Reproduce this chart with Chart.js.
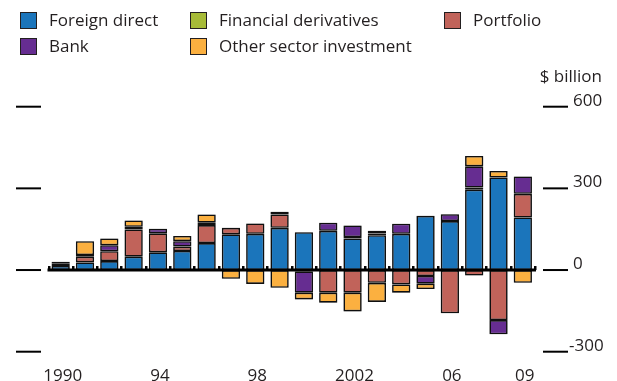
<!DOCTYPE html>
<html>
<head>
<meta charset="utf-8">
<script src="https://cdn.jsdelivr.net/npm/chart.js@4.4.1/dist/chart.umd.min.js"></script>
<style>
  html, body { margin: 0; padding: 0; background: #fff; }
  #wrap { position: relative; width: 617px; height: 381px; overflow: hidden; font-family: "Open Sans", sans-serif; color: #231f20; }
  #chart { position: absolute; left: 0; top: 0; }
  .lg { position: absolute; font-size: 17px; line-height: 18px; white-space: nowrap; }
  .lg i { position: absolute; left: 0; top: 0; width: 15px; height: 15px; border: 1.5px solid #231f20; }
  .lg span { position: absolute; left: 29px; top: -1px; }
  #unit { position: absolute; right: 15px; top: 64px; font-size: 17px; }
</style>
</head>
<body>
<div id="wrap">
  <canvas id="chart" width="617" height="381"></canvas>
  <div id="legend"></div>
  <div id="unit">$ billion</div>
</div>
<script>
// ---- Data ($ billion) ----
var years = ['1990','1991','1992','1993','1994','1995','1996','1997','1998','1999',
             '2000','2001','2002','2003','2004','2005','2006','2007','2008','2009'];
var xTickLabels = ['1990','','','','94','','','','98','','','','2002','','','','06','','','09'];
var yTickValues = [600, 300, 0, -300];
var yTickLabels = ['600', '300', '0', '-300'];

var foreignDirect = [15, 28, 33, 49, 65, 70, 99, 131, 133, 155, 139, 144, 116, 128, 133, 199, 180, 295, 340, 193];
var portfolio     = [8, 21, 36, 100, 70, 16, 66, 24, 38, 49, -5, -83, -83, -47, -53, -22, -159, -20, -184, 87];
var finDeriv      = [null, null, null, null, null, null, null, null, null, 10, null, null, 5, 6, null, null, null, 8, null, null];
var bank          = [7, 6, 22, 10, 17, 20, 9, null, null, null, -78, 30, 43, 10, 37, -28, 25, 78, -52, 64];
var otherSector   = [null, 51, 25, 23, null, 19, 30, -32, -51, -65, -25, -37, -69, -70, -30, -20, null, 38, 24, -47];

// Stack order, bottom up: FDI, portfolio, derivatives, bank, other.
var SERIES = [
  { name: 'Foreign direct',          data: foreignDirect, color: '#1b75bb' },
  { name: 'Portfolio',               data: portfolio,     color: '#c1635a' },
  { name: 'Financial derivatives',   data: finDeriv,      color: '#a7bb38' },
  { name: 'Bank',                    data: bank,          color: '#662d91' },
  { name: 'Other sector investment', data: otherSector,   color: '#fbb040' }
];

// Legend cells: [series name, box left, box top]
var LEGEND = [
  ['Foreign direct', 20, 12], ['Financial derivatives', 190, 12], ['Portfolio', 444, 12],
  ['Bank', 20, 38], ['Other sector investment', 190, 38]
];

var INK = '#231f20';
var FONT = '17px "Open Sans", sans-serif';

function colorOf(name) {
  for (var i = 0; i < SERIES.length; i++) if (SERIES[i].name === name) return SERIES[i].color;
  return '#999';
}

// Legend (HTML)
var lg = document.getElementById('legend');
LEGEND.forEach(function (e) {
  var d = document.createElement('div');
  d.className = 'lg';
  d.style.left = e[1] + 'px'; d.style.top = e[2] + 'px';
  d.innerHTML = '<i style="background:' + colorOf(e[0]) + '"></i><span>' + e[0] + '</span>';
  lg.appendChild(d);
});

// Soft halo round each bar.
var barHalo = {
  id: 'barHalo',
  beforeDatasetDraw: function (chart) {
    var ctx = chart.ctx; ctx.save();
    ctx.shadowColor = 'rgba(0,0,0,0.35)'; ctx.shadowBlur = 3;
  },
  afterDatasetDraw: function (chart) { chart.ctx.restore(); }
};

// Axis furniture: zero line with category notches, side tick marks and value labels.
var axisDecor = {
  id: 'axisDecor',
  afterDatasetsDraw: function (chart) {
    var ctx = chart.ctx, x = chart.scales.x, y = chart.scales.y;
    var y0 = y.getPixelForValue(0);
    ctx.save();
    ctx.strokeStyle = '#000'; ctx.fillStyle = '#000';

    // zero line
    var left = x.getPixelForValue(-0.5) - 1, right = x.getPixelForValue(years.length - 0.5) + 1;
    ctx.lineWidth = 3;
    ctx.beginPath(); ctx.moveTo(left, y0); ctx.lineTo(right, y0); ctx.stroke();
    // notches between categories
    for (var i = 0; i <= years.length; i++) {
      var bx = x.getPixelForValue(i - 0.5);
      ctx.fillRect(Math.round(bx) - 1, y0 - 4, 2.5, 4);
    }

    // side tick marks + labels
    ctx.lineWidth = 2;
    ctx.font = FONT; ctx.fillStyle = INK; ctx.textBaseline = 'alphabetic';
    yTickValues.forEach(function (v, k) {
      var py = y.getPixelForValue(v);
      ctx.beginPath(); ctx.moveTo(16, py); ctx.lineTo(41, py); ctx.stroke();
      ctx.beginPath(); ctx.moveTo(543, py); ctx.lineTo(568, py); ctx.stroke();
      var t = yTickLabels[k];
      ctx.fillText(t, v < 0 ? 569 : 573, py - 1);
    });
    ctx.restore();
  }
};

new Chart(document.getElementById('chart'), {
  type: 'bar',
  data: {
    labels: years,
    datasets: SERIES.map(function (s) {
      return {
        label: s.name, data: s.data, backgroundColor: s.color,
        borderColor: '#111', borderWidth: 1.6, borderSkipped: false,
        barPercentage: 0.75, categoryPercentage: 1
      };
    })
  },
  options: {
    responsive: false, animation: false,
    layout: { padding: { left: 48.5, right: 82, top: 106.7, bottom: 0 } },
    plugins: { legend: { display: false }, tooltip: { enabled: false } },
    scales: {
      x: {
        stacked: true,
        grid: { display: false, drawTicks: false },
        border: { display: false },
        afterFit: function (s) { s.height = 29.3; },
        ticks: {
          autoSkip: false, maxRotation: 0, padding: 15.6, labelOffset: 2,
          color: INK, font: { family: '"Open Sans", sans-serif', size: 17, lineHeight: 1 },
          callback: function (v, i) { return xTickLabels[i]; }
        }
      },
      y: { stacked: true, display: false, min: -300, max: 600 }
    }
  },
  plugins: [barHalo, axisDecor]
});
</script>
</body>
</html>
